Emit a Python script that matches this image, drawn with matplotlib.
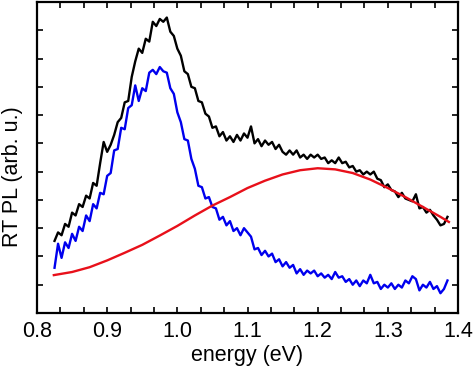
import numpy as np
import matplotlib
matplotlib.use("Agg")
import matplotlib.pyplot as plt
from matplotlib.ticker import MultipleLocator

plt.rcParams['font.family'] = ['Liberation Sans', 'DejaVu Sans']

# energy grid of the measured spectra (eV)
energy = np.round(np.arange(0.825, 1.3851, 0.005), 3)

# total RT PL (black)
pl_total = [2.55, 2.85, 2.75, 3.15, 3.05, 3.55, 3.45, 3.85, 3.75, 4.15,
            4.05, 4.6, 4.5, 5.3, 6.05, 5.7, 5.95, 6.3, 6.75, 6.9,
            7.45, 7.5, 8.35, 8.9, 9.35, 9.2, 9.7, 9.6, 10.3, 10.15,
            10.4, 10.3, 10.45, 9.95, 9.8, 9.35, 9.1, 8.55, 8.45, 8.0,
            7.95, 7.5, 7.45, 7.05, 6.95, 6.55, 6.6, 6.25, 6.4, 6.1,
            6.25, 6.05, 6.3, 6.1, 6.35, 6.2, 6.6, 6.0, 6.15, 5.9,
            6.1, 5.95, 6.05, 5.8, 5.95, 5.7, 5.6, 5.75, 5.6, 5.75,
            5.5, 5.6, 5.45, 5.6, 5.5, 5.6, 5.45, 5.5, 5.3, 5.4,
            5.3, 5.5, 5.3, 5.35, 5.15, 5.2, 5.0, 5.05, 4.9, 5.0,
            4.9, 5.0, 4.75, 4.7, 4.45, 4.55, 4.35, 4.3, 4.1, 4.25,
            4.05, 4.0, 3.95, 4.2, 3.7, 3.75, 3.55, 3.65, 3.45, 3.3,
            3.1, 3.15, 3.4]

# PL after subtraction of the broad band (blue)
pl_sub = [1.6, 2.45, 1.95, 2.5, 2.3, 2.8, 2.55, 3.05, 2.9, 3.45,
          3.25, 3.85, 3.7, 4.25, 4.2, 4.85, 4.95, 5.75, 5.8, 6.55,
          6.5, 7.25, 7.35, 8.05, 7.5, 7.95, 7.85, 8.5, 8.6, 8.45,
          8.7, 8.55, 8.5, 7.95, 7.75, 7.1, 6.75, 6.15, 6.1, 5.45,
          5.1, 4.5, 4.45, 4.05, 4.1, 3.75, 3.7, 3.3, 3.4, 3.1,
          3.25, 2.9, 3.0, 2.75, 3.0, 2.85, 2.7, 2.25, 2.3, 2.05,
          2.2, 2.0, 2.1, 1.8, 1.9, 1.65, 1.8, 1.6, 1.7, 1.4,
          1.55, 1.35, 1.5, 1.4, 1.5, 1.3, 1.4, 1.25, 1.35, 1.2,
          1.45, 1.25, 1.3, 1.1, 1.2, 1.0, 1.15, 0.95, 1.15, 1.05,
          1.35, 1.05, 1.1, 0.85, 1.0, 0.9, 1.05, 0.85, 1.0, 0.9,
          1.15, 1.05, 1.3, 1.2, 0.8, 1.0, 0.9, 1.1, 0.85, 0.95,
          0.7, 0.85, 1.15]

# broad band fit (red)
fit_energy = [0.824, 0.85, 0.875, 0.90, 0.925, 0.95, 0.975, 1.00, 1.025,
              1.05, 1.075, 1.10, 1.125, 1.15, 1.175, 1.20, 1.225, 1.25,
              1.275, 1.30, 1.325, 1.35, 1.375, 1.387]
fit_values = [1.34, 1.45, 1.62, 1.86, 2.13, 2.41, 2.74, 3.08, 3.45,
              3.80, 4.10, 4.42, 4.68, 4.90, 5.05, 5.12, 5.08, 4.95,
              4.72, 4.42, 4.10, 3.75, 3.40, 3.22]

x_ticks = [0.8, 0.9, 1.0, 1.1, 1.2, 1.3, 1.4]
x_tick_labels = ['0.8', '0.9', '1.0', '1.1', '1.2', '1.3', '1.4']

fig = plt.figure(figsize=(4.74, 3.71), dpi=100)
ax = fig.add_axes([37/474, 1-313/371, (458-37)/474, (313-2)/371])

ax.plot(energy, pl_total, color='black', lw=1.7)
ax.plot(energy, pl_sub, color='#0000ee', lw=1.7)
ax.plot(fit_energy, fit_values, color='#e8101a', lw=1.7)

ax.set_xlim(0.8, 1.4)
ax.set_ylim(0, 11)
ax.set_xticks(x_ticks)
ax.set_xticklabels(x_tick_labels)
ax.xaxis.set_minor_locator(MultipleLocator(0.1/3))
ax.yaxis.set_major_locator(MultipleLocator(1))
ax.set_yticklabels([])

for side in ax.spines.values():
    side.set_linewidth(1.6)

ax.tick_params(which='both', direction='in', top=True, right=True,
               length=4, width=1.2)
ax.tick_params(axis='x', which='major', labelsize=15.5, pad=6)
ax.tick_params(axis='y', which='both', labelleft=False)

ax.set_xlabel('energy (eV)', fontsize=15.5, labelpad=2)
ax.set_ylabel('RT PL (arb. u.)', fontsize=15.5)
ax.yaxis.set_label_coords(-0.033, 0.44)

fig.savefig('out.png', dpi=100)
